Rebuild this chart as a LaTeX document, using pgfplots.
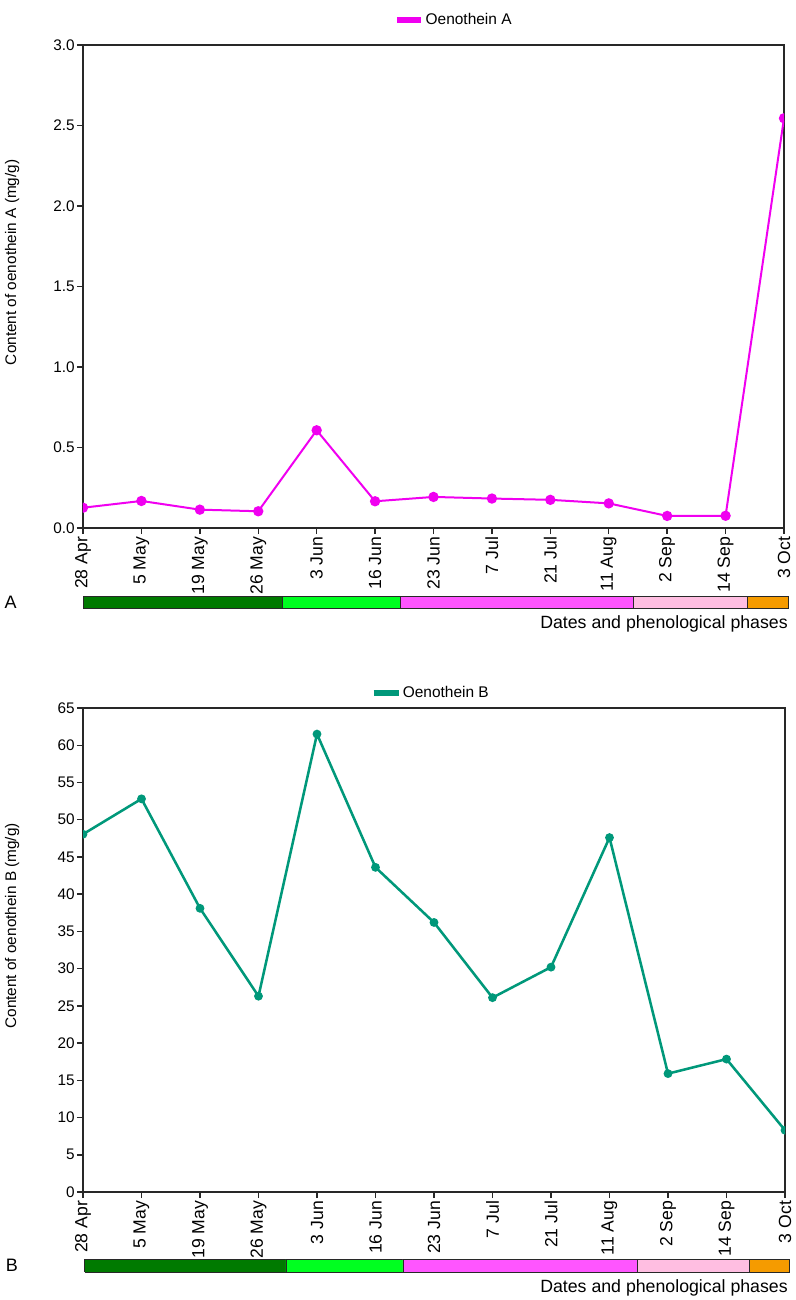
\documentclass[border=0pt]{standalone}
\usepackage{fontspec}
\setmainfont{Liberation Sans}
\usepackage{pgfplots}
\pgfplotsset{compat=1.18}
\definecolor{oa}{RGB}{240,0,240}
\definecolor{ob}{RGB}{0,152,122}
\definecolor{pdg}{RGB}{0,122,0}
\definecolor{plg}{RGB}{0,255,32}
\definecolor{pmg}{RGB}{255,85,255}
\definecolor{ppk}{RGB}{255,190,225}
\definecolor{por}{RGB}{245,155,0}
\definecolor{axc}{RGB}{40,40,40}
\pgfplotsset{
  myaxis/.style={
    scale only axis, xmin=0, xmax=12, ymin=0,
    xtick={0,...,12},
    xticklabels={28 Apr,5 May,19 May,26 May,3 Jun,16 Jun,23 Jun,7 Jul,21 Jul,11 Aug,2 Sep,14 Sep,3 Oct},
    tick align=outside, major tick length=4.5pt, tick pos=left,
    axis line style={line width=1.1pt, color=axc},
    every tick/.style={line width=1.1pt, color=axc},
    xticklabel style={rotate=90, anchor=east, font=\fontsize{13.2}{15}\selectfont, inner sep=2pt},
    yticklabel style={font=\fontsize{11.5}{13}\selectfont, inner sep=1.5pt},
    /pgf/number format/assume math mode=true,
    ylabel style={font=\fontsize{11.5}{13}\selectfont, at={(axis description cs:-0.101,0.55)}, anchor=center},
    legend style={draw=none, fill=none, inner sep=0pt, font=\fontsize{11.6}{13}\selectfont, nodes={inner sep=1pt}},
    legend cell align=left,
    clip marker paths=true,
  },
  phase/.style={scale only axis, hide axis, clip=false, xmin=0, xmax=12, ymin=0, ymax=1},
  pbar/.style={draw=axc, line width=0.7pt, mark=none},
}
\begin{document}
\begin{tikzpicture}
\path[use as bounding box] (0pt,0pt) rectangle (597pt,-975pt);

% Panel A
\begin{axis}[myaxis, at={(62.25pt,-33.75pt)}, anchor=north west,
  width=525.75pt, height=362.25pt, ymax=3,
  ytick={0,0.5,...,3.0},
  yticklabel style={/pgf/number format/.cd, fixed, fixed zerofill, precision=1},
  ylabel={Content of oenothein A (mg/g)},
  legend style={at={(axis description cs:0.4437,1.052)}, anchor=west},
  legend image code/.code={\draw[line width=4.5pt] (0pt,0pt) -- (18pt,0pt);},
]
\addplot[color=oa, line width=1.5pt, mark=*, mark size=3.1pt, mark options={fill=oa, draw=oa}]
 coordinates {(0,0.126) (1,0.168) (2,0.114) (3,0.104) (4,0.607) (5,0.166) (6,0.193) (7,0.183) (8,0.175) (9,0.153) (10,0.075) (11,0.076) (12,2.545)};
\addlegendentry{Oenothein A}
\end{axis}

\begin{axis}[phase, at={(62.25pt,-447pt)}, anchor=north west, width=525.75pt, height=9.5pt]
\addplot[pbar, fill=pdg] coordinates {(0,0) (3.42,0) (3.42,1) (0,1) (0,0)};
\addplot[pbar, fill=plg] coordinates {(3.42,0) (5.44,0) (5.44,1) (3.42,1) (3.42,0)};
\addplot[pbar, fill=pmg] coordinates {(5.44,0) (9.43,0) (9.43,1) (5.44,1) (5.44,0)};
\addplot[pbar, fill=ppk] coordinates {(9.43,0) (11.37,0) (11.37,1) (9.43,1) (9.43,0)};
\addplot[pbar, fill=por] coordinates {(11.37,0) (12.07,0) (12.07,1) (11.37,1) (11.37,0)};
\end{axis}
\node[font=\fontsize{13.5}{15}\selectfont] at (8pt,-451.5pt) {A};
\node[font=\fontsize{13.3}{15}\selectfont, anchor=base east, inner sep=0pt] at (591pt,-471pt) {Dates and phenological phases};

% Panel B
\begin{axis}[myaxis, at={(62.25pt,-531pt)}, anchor=north west,
  width=526.5pt, height=363pt, ymax=65,
  ytick={0,5,...,65},
  ylabel={Content of oenothein B (mg/g)},
  legend style={at={(axis description cs:0.410,1.031)}, anchor=west},
  legend image code/.code={\draw[line width=3.8pt] (0pt,0pt) -- (19pt,0pt);},
]
\addplot[color=ob, line width=1.9pt, mark=*, mark size=2.3pt, mark options={fill=ob, draw=ob}]
 coordinates {(0,48.05) (1,52.8) (2,38.1) (3,26.3) (4,61.5) (5,43.6) (6,36.2) (7,26.1) (8,30.2) (9,47.6) (10,15.9) (11,17.85) (12,8.3)};
\addlegendentry{Oenothein B}
\end{axis}

\begin{axis}[phase, at={(62.25pt,-944.25pt)}, anchor=north west, width=526.5pt, height=9.75pt]
\addplot[pbar, fill=pdg] coordinates {(0.03,0) (3.47,0) (3.47,1) (0.03,1) (0.03,0)};
\addplot[pbar, fill=plg] coordinates {(3.47,0) (5.47,0) (5.47,1) (3.47,1) (3.47,0)};
\addplot[pbar, fill=pmg] coordinates {(5.47,0) (9.47,0) (9.47,1) (5.47,1) (5.47,0)};
\addplot[pbar, fill=ppk] coordinates {(9.47,0) (11.40,0) (11.40,1) (9.47,1) (9.47,0)};
\addplot[pbar, fill=por] coordinates {(11.40,0) (12.08,0) (12.08,1) (11.40,1) (11.40,0)};
\end{axis}
\node[font=\fontsize{13.5}{15}\selectfont] at (9pt,-948.75pt) {B};
\node[font=\fontsize{13.3}{15}\selectfont, anchor=base east, inner sep=0pt] at (591pt,-969pt) {Dates and phenological phases};
\end{tikzpicture}
\end{document}
